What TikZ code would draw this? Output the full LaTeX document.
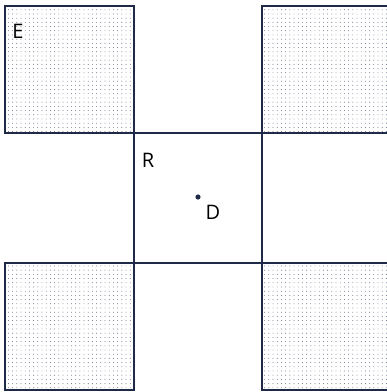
\documentclass[tikz,border=0pt]{standalone}
\usepackage{fontspec}
\setsansfont{Open Sans}
\usetikzlibrary{patterns.meta}
\definecolor{navy}{HTML}{1F2A48}
\tikzset{
  field/.style={draw=navy,line width=2.2pt,pattern={Dots[distance=4.2pt,radius=0.45pt]},pattern color=navy!80},
  lab/.style={font=\sffamily\fontsize{20}{22}\selectfont,text=black,inner sep=0pt}
}
\begin{document}
\begin{tikzpicture}[x=1pt,y=-1pt]
	\useasboundingbox (0,0) rectangle (387,392);
	\clip (0,0) rectangle (387,392);
	\draw[field](5,6) rectangle (134,133);
	\draw[field](262,6) rectangle (392,133);
	\draw[field](5,263) rectangle (134,390);
	\draw[field](262,263) rectangle (392,390);
	\draw[navy,line width=2.2pt](134,133) rectangle (262,263);
	\node[lab] (E) at (18,31) {E};
	\node[lab] (R) at (148,160) {R};
	\fill[navy](198,197) circle (2.6pt) coordinate (d);
	\node[lab] (D) at (213,212) {D};
\end{tikzpicture}
\end{document}
